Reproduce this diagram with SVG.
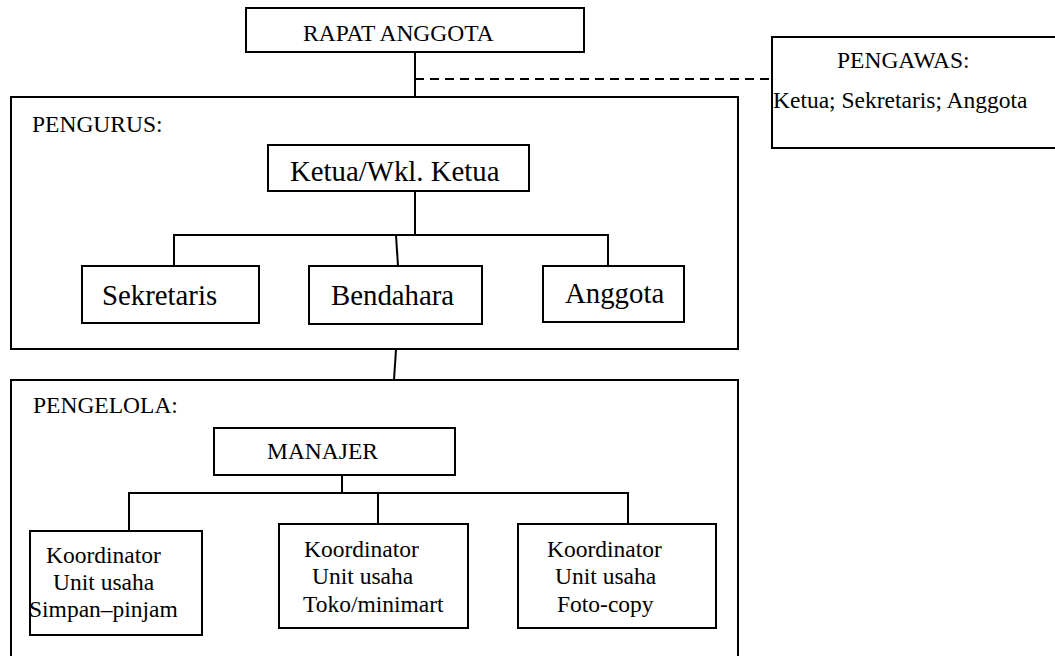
<svg xmlns="http://www.w3.org/2000/svg" width="1055" height="656" viewBox="0 0 1055 656">
<style>
.b{fill:#fff;stroke:#000;stroke-width:2}
.f{fill:none;stroke:#000;stroke-width:2}
.c{fill:none;stroke:#000;stroke-width:2}
.d{fill:none;stroke:#000;stroke-width:2;stroke-dasharray:9 6}
.s{font-size:23.5px}
.l{font-size:28.8px}
</style>
<rect width="1055" height="656" fill="#fff"/>
<g font-family="'Liberation Serif', 'Times New Roman', 'DejaVu Serif', serif" fill="#000">
<g id="pengurus">
<rect class="f" x="11" y="97" width="727" height="252"/>
<text class="s" x="32" y="132">PENGURUS:</text>
</g>
<g id="pengelola">
<rect class="f" x="11" y="380" width="727" height="290"/>
<text class="s" x="33" y="413">PENGELOLA:</text>
</g>
<g id="connectors">
<line class="c" x1="415" y1="52" x2="415" y2="97"/>
<line class="d" x1="415" y1="79" x2="772" y2="79"/>
<line class="c" x1="415" y1="191" x2="415" y2="236"/>
<polyline class="c" points="174,266 174,235 608,235 608,266"/>
<line class="c" x1="396" y1="235" x2="398" y2="266"/>
<line class="c" x1="396" y1="349" x2="394" y2="380"/>
<line class="c" x1="342" y1="475" x2="342" y2="493"/>
<polyline class="c" points="129,531 129,493 628,493 628,524"/>
<line class="c" x1="378" y1="493" x2="378" y2="524"/>
</g>
<g id="rapat">
<rect class="b" x="246" y="8" width="338" height="44"/>
<text class="s" x="303" y="41">RAPAT ANGGOTA</text>
</g>
<g id="pengawas">
<rect class="b" x="772" y="37" width="340" height="111"/>
<text class="s" x="837" y="68">PENGAWAS:</text>
<text class="s" x="773" y="108">Ketua; Sekretaris; Anggota</text>
</g>
<g id="ketua">
<rect class="b" x="268" y="145" width="261" height="46"/>
<text class="l" x="290" y="181">Ketua/Wkl. Ketua</text>
</g>
<g id="sekretaris">
<rect class="b" x="82" y="266" width="177" height="57"/>
<text class="l" x="102" y="305">Sekretaris</text>
</g>
<g id="bendahara">
<rect class="b" x="309" y="266" width="173" height="58"/>
<text class="l" x="331" y="305">Bendahara</text>
</g>
<g id="anggota">
<rect class="b" x="543" y="266" width="141" height="56"/>
<text class="l" x="565" y="303">Anggota</text>
</g>
<g id="manajer">
<rect class="b" x="214" y="428" width="241" height="47"/>
<text class="s" x="267" y="459">MANAJER</text>
</g>
<g id="koord-simpan">
<rect class="b" x="30" y="531" width="172" height="104"/>
<text class="s" x="46" y="563">Koordinator</text>
<text class="s" x="53" y="590">Unit usaha</text>
<text class="s" x="29" y="617">Simpan–pinjam</text>
</g>
<g id="koord-toko">
<rect class="b" x="279" y="524" width="189" height="104"/>
<text class="s" x="304" y="557">Koordinator</text>
<text class="s" x="312" y="584">Unit usaha</text>
<text class="s" x="303" y="612">Toko/minimart</text>
</g>
<g id="koord-foto">
<rect class="b" x="518" y="524" width="198" height="104"/>
<text class="s" x="547" y="557">Koordinator</text>
<text class="s" x="555" y="584">Unit usaha</text>
<text class="s" x="557" y="612">Foto-copy</text>
</g>
</g>
</svg>
